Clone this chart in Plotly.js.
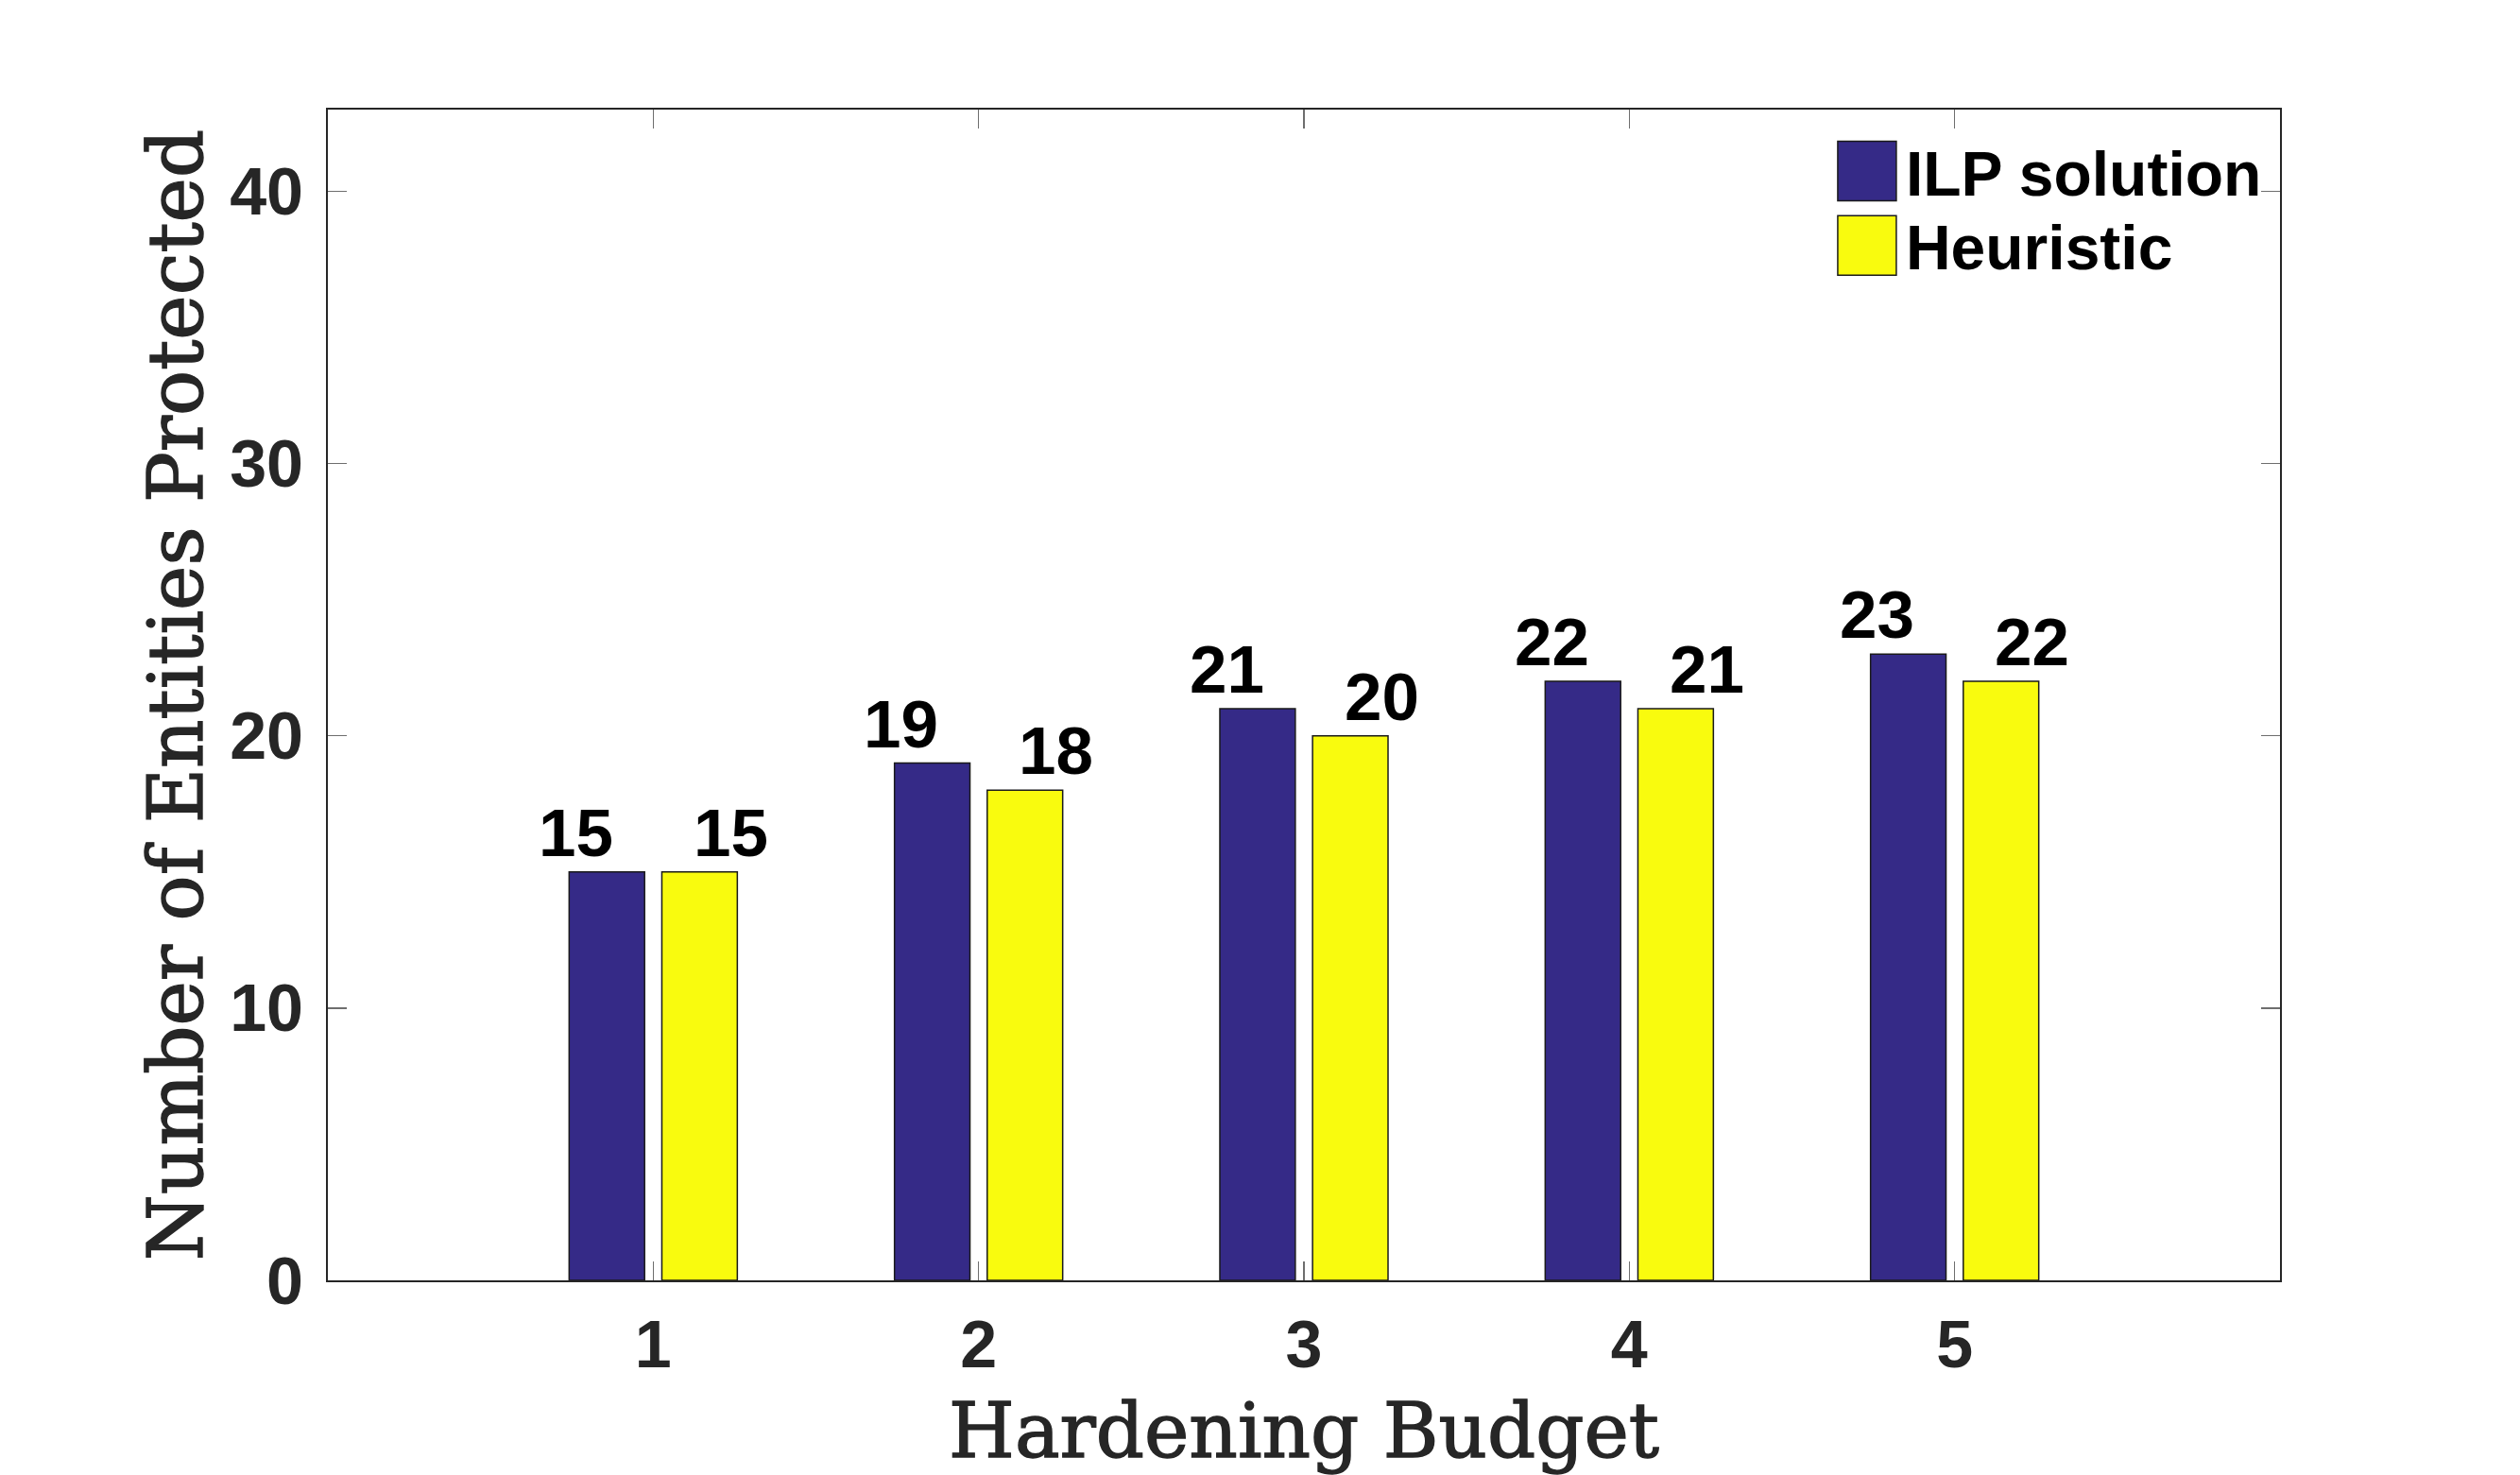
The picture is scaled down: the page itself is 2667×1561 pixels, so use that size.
<!DOCTYPE html>
<html>
<head>
<meta charset="utf-8">
<script src="https://cdn.plot.ly/plotly-3.0.1.min.js"></script>
<style>
  html, body { margin: 0; padding: 0; background: #ffffff; }
  #chart { width: 2667px; height: 1561px; }
  .xtitle, .ytitle { stroke: #262626; stroke-width: 1.4px; }
</style>
</head>
<body>
<div id="chart"></div>
<script>
// ---- data ----
const categories = [1, 2, 3, 4, 5];
const ilpValues = [15, 19, 21, 22, 23];
const heuristicValues = [15, 18, 20, 21, 22];
const seriesNames = ['ILP solution', 'Heuristic'];
const seriesColors = ['#352A87', '#F9FB0E'];
const yTickVals = [0, 10, 20, 30, 40];
const xTitle = 'Hardening Budget';
const yTitle = 'Number of Entities Protected';

const seriesValues = [ilpValues, heuristicValues];

const tickFont = { family: '"Liberation Sans", Arial, sans-serif', size: 70, color: '#262626', weight: 'bold' };
const titleFont = { family: '"DejaVu Serif", serif', size: 80, color: '#262626' };

const traces = seriesValues.map((vals, s) => ({
  type: 'bar',
  name: seriesNames[s],
  x: categories,
  y: vals,
  marker: { color: seriesColors[s], line: { color: '#1a1a1a', width: 1.5 } },
  hoverinfo: 'x+y'
}));

const annotations = [];
seriesValues.forEach((vals, s) => {
  vals.forEach((v, i) => {
    annotations.push({
      x: categories[i], y: v, xref: 'x', yref: 'y',
      text: String(v), showarrow: false,
      xanchor: 'center', yanchor: 'bottom',
      xshift: s === 0 ? -82 : 82, yshift: 0,
      font: { family: '"Liberation Sans", Arial, sans-serif', size: 71, color: '#000000', weight: 'bold' }
    });
  });
});

const axisCommon = {
  showline: true, linecolor: '#262626', linewidth: 2,
  mirror: 'ticks', ticks: 'inside', ticklen: 20, tickwidth: 1.5, tickcolor: '#6e6e6e',
  showgrid: false, zeroline: false, tickfont: tickFont
};

const layout = {
  width: 2667, height: 1561,
  paper_bgcolor: '#ffffff', plot_bgcolor: '#ffffff',
  margin: { l: 347, r: 254, t: 116, b: 206, pad: 0 },
  barmode: 'group', bargap: 0.43, bargroupgap: 0.186,
  showlegend: true,
  legend: {
    x: 0.7686, y: 0.9875, xanchor: 'left', yanchor: 'top',
    bgcolor: 'rgba(0,0,0,0)', borderwidth: 0, itemwidth: 72,
    font: { family: '"Liberation Sans", Arial, sans-serif', size: 66, color: '#000000', weight: 'bold' }
  },
  xaxis: Object.assign({}, axisCommon, {
    range: [0, 6], tickvals: categories, ticktext: categories.map(String),
    ticklabelstandoff: 6,
    title: { text: xTitle, font: titleFont, standoff: 40 }
  }),
  yaxis: Object.assign({}, axisCommon, {
    range: [0, 43], tickvals: yTickVals, ticktext: yTickVals.map(String),
    ticklabelstandoff: 10,
    title: { text: yTitle, font: titleFont, standoff: 2 }
  }),
  annotations: annotations
};

Plotly.newPlot('chart', traces, layout, { displayModeBar: false, staticPlot: true }).then(function () {
  document.querySelectorAll('.legend .legendpoints path').forEach(function (p) {
    p.setAttribute('d', 'M31,31.5H-31V-31.5H31Z');
  });
  // tighten legend row spacing to match the reference
  document.querySelectorAll('.legend .traces').forEach(function (g, i) {
    var t = g.getAttribute('transform') || '';
    var m = t.match(/translate\(\s*([-\d.e]+)[ ,]+([-\d.e]+)\s*\)/);
    if (m) {
      var x = parseFloat(m[1]), y = parseFloat(m[2]) - i * 10;
      g.setAttribute('transform', 'translate(' + x + ',' + y + ')');
    }
  });
});
</script>
</body>
</html>
